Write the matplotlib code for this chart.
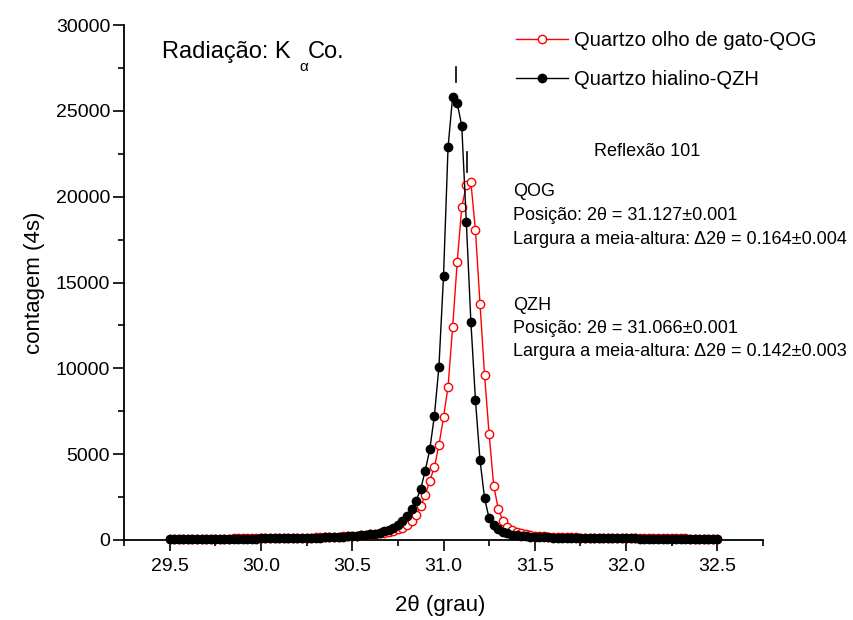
import numpy as np
import matplotlib
matplotlib.use("Agg")
import matplotlib.pyplot as plt
from matplotlib.ticker import MultipleLocator

plt.rcParams['font.family'] = ['Liberation Sans', 'DejaVu Sans']

# 2theta scan, 29.5 .. 32.5 deg in 0.025 deg steps
two_theta = np.round(np.arange(29.5, 32.5 + 1e-9, 0.025), 3)

# Quartzo olho de gato (QOG)
qog = [
    70, 71, 72, 73, 74, 75, 76, 78, 79, 80, 82, 83, 85, 86, 88, 90, 92, 94, 96, 98, 100,
    103, 106, 109, 112, 116, 120, 124, 129, 134, 139, 145, 152, 159, 167, 176, 186, 197, 210, 224, 240,
    258, 278, 300, 325, 352, 385, 425, 470, 540, 620, 720, 874, 1126, 1456, 1980, 2621, 3456, 4233, 5534, 7140,
    8930, 12390, 16176, 19380, 20679, 20836, 18040, 13747, 9594, 6157, 3163, 1806, 1126, 775, 582, 460, 380, 325, 285, 255,
    232, 214, 199, 187, 176, 167, 159, 152, 146, 141, 136, 132, 128, 124, 121, 118, 115, 112, 110, 108,
    106, 104, 102, 100, 98, 97, 95, 94, 92, 91, 90, 89, 88, 87, 86, 85, 84, 83, 82, 81,
]

# Quartzo hialino (QZH)
qzh = [
    60, 61, 62, 63, 64, 65, 66, 67, 68, 70, 71, 72, 74, 75, 77, 78, 80, 82, 84, 86, 88,
    90, 93, 96, 99, 102, 106, 110, 114, 119, 124, 130, 136, 143, 151, 160, 170, 181, 194, 209, 226,
    246, 270, 298, 332, 375, 430, 500, 590, 700, 874, 1107, 1417, 1788, 2290, 2970, 4037, 5283, 7230, 10100, 15350,
    22890, 25805, 25455, 24116, 18524, 12710, 8155, 4640, 2428, 1263, 855, 620, 470, 380, 320, 275, 240, 215, 195, 180,
    168, 158, 150, 143, 137, 131, 126, 122, 118, 114, 111, 108, 105, 102, 100, 98, 96, 94, 92, 90,
    89, 88, 86, 85, 84, 83, 82, 81, 80, 79, 78, 77, 76, 75, 74, 74, 73, 72, 71, 70,
]

labels = ["Quartzo olho de gato-QOG", "Quartzo hialino-QZH"]
peak_pos = [31.127, 31.066]
peak_fwhm = ["0.164\u00b10.004", "0.142\u00b10.003"]
peak_pos_txt = ["31.127\u00b10.001", "31.066\u00b10.001"]
short_names = ["QOG", "QZH"]

W, H = 854, 620
fig = plt.figure(figsize=(W / 100, H / 100), dpi=100)
ax = fig.add_axes([124 / W, 80 / H, (763 - 124) / W, (540 - 25) / H])

ax.plot(two_theta, qog, color='red', lw=1.0, marker='o', ms=6,
        mfc='white', mec='red', mew=1.0, clip_on=False, label=labels[0], zorder=3)
ax.plot(two_theta, qzh, color='black', lw=1.0, marker='o', ms=6,
        mfc='black', mec='black', clip_on=False, label=labels[1], zorder=4)

# peak position markers
ax.plot([peak_pos[1], peak_pos[1]], [26700, 27570], color='black', lw=1.2)
ax.plot([peak_pos[0], peak_pos[0]], [21450, 22620], color='black', lw=1.2)

ax.set_xlim(29.25, 32.75)
ax.set_ylim(0, 30000)
ax.xaxis.set_major_locator(MultipleLocator(0.5))
ax.xaxis.set_minor_locator(MultipleLocator(0.25))
ax.yaxis.set_major_locator(MultipleLocator(5000))
ax.yaxis.set_minor_locator(MultipleLocator(2500))
ax.set_xticks([29.5, 30.0, 30.5, 31.0, 31.5, 32.0, 32.5])
ax.set_xticklabels(["29.5", "30.0", "30.5", "31.0", "31.5", "32.0", "32.5"])

for s in ['top', 'right']:
    ax.spines[s].set_visible(False)
for s in ['left', 'bottom']:
    ax.spines[s].set_linewidth(1.3)

ax.tick_params(which='major', direction='out', length=8, width=1.2, labelsize=14)
ax.tick_params(which='minor', direction='out', length=4, width=1.2)
ax.tick_params(axis='y', which='major', pad=2)
ax.tick_params(axis='x', which='major', pad=5)

fig.text(35 / W, 1 - 283 / H, "contagem (4s)", rotation=90, fontsize=16,
         ha='center', va='center')
fig.text(440 / W, 1 - 605 / H, "2\u03b8 (grau)", fontsize=16,
         ha='center', va='center')

# radiation label with subscript alpha
fig.text(162 / W, 1 - 58 / H, "Radiação: K", fontsize=17, ha='left', va='baseline')
fig.text(299 / W, 1 - 71 / H, "\u03b1", fontsize=11, ha='left', va='baseline')
fig.text(308 / W, 1 - 58 / H, "Co.", fontsize=17, ha='left', va='baseline')

leg = ax.legend(loc='upper left', bbox_to_anchor=(516 / W, 1 - 31 / H),
                bbox_transform=fig.transFigure, frameon=False, fontsize=14.5,
                handlelength=2.6, handletextpad=0.3, labelspacing=1.0,
                borderpad=0, borderaxespad=0)

fs = 13
fig.text(594 / W, 1 - 152 / H, "Reflexão 101", fontsize=fs, ha='left', va='center')
for k, y0 in enumerate([192, 305]):
    fig.text(513 / W, 1 - y0 / H, short_names[k], fontsize=fs, ha='left', va='center')
    fig.text(513 / W, 1 - (y0 + 23.5) / H, "Posição: 2\u03b8 = " + peak_pos_txt[k],
             fontsize=fs, ha='left', va='center')
    fig.text(513 / W, 1 - (y0 + 47) / H,
             "Largura a meia-altura: \u03942\u03b8 = " + peak_fwhm[k],
             fontsize=fs, ha='left', va='center')

fig.savefig("out.png", dpi=100)
